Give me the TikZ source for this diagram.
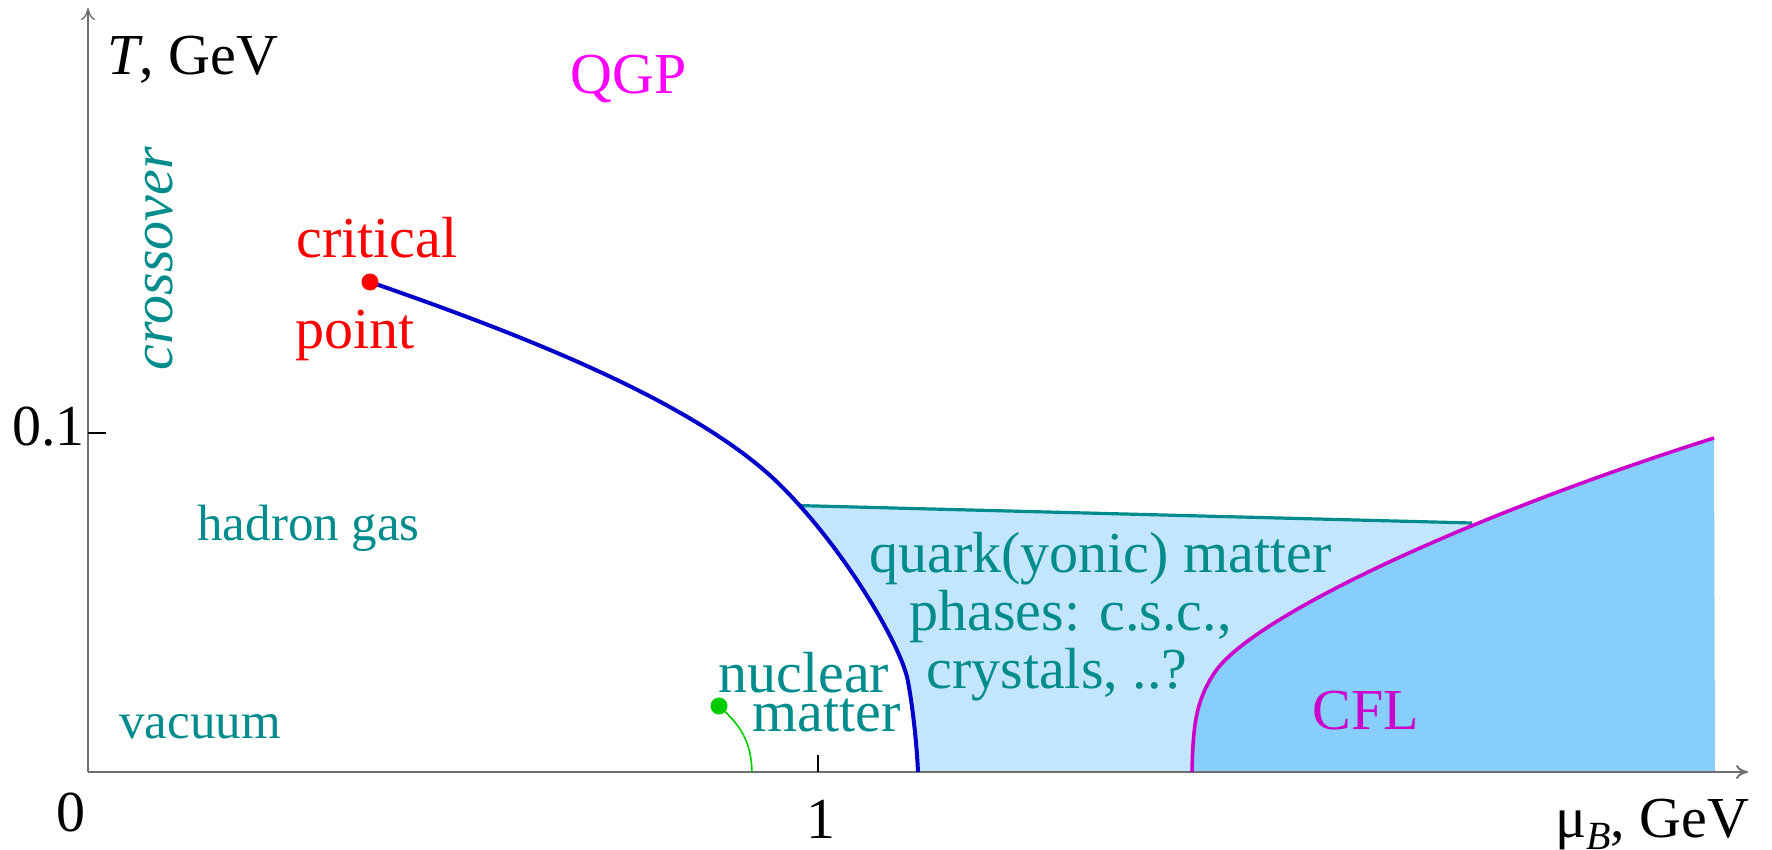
\documentclass[tikz,border=0pt]{standalone}
\usepackage{fontspec}
\setmainfont{Liberation Serif}
\usetikzlibrary{arrows.meta}
\definecolor{tealc}{RGB}{0,140,140}
\definecolor{magtext}{RGB}{255,0,255}
\definecolor{magline}{RGB}{204,0,204}
\definecolor{blueline}{RGB}{0,0,200}
\definecolor{lightq}{RGB}{196,230,252}
\definecolor{darkq}{RGB}{135,206,250}
\definecolor{greenc}{RGB}{0,204,0}
\definecolor{axisc}{RGB}{110,110,110}
\begin{document}
\begin{tikzpicture}[x=0.5pt,y=-0.5pt,
  lbl/.style={inner sep=0pt,font=\fontsize{29}{29}\selectfont},
  lbls/.style={inner sep=0pt,font=\fontsize{25.5}{25.5}\selectfont},
  tl/.style={text=tealc},
  axisline/.style={axisc,line width=1pt,-{To[length=6pt,width=7pt]}},
  dotc/.style={circle,inner sep=0pt,minimum size=8.5pt}]
\useasboundingbox (0,0) rectangle (1772,850);
\node[dotc] (cp) at (370,282) {};
\node[dotc] (nm) at (719,706) {};
\coordinate (bb) at (918,772);
\coordinate (mb) at (1192,772);
\coordinate (mt) at (1714,438);
% light region, clipped to the right of the blue curve
\begin{scope}
\clip (cp.center) .. controls (520,334) and (690,400) .. (775,480)
  .. controls (840,542) and (898,640) .. (907,677)
  .. controls (910,690) and (916,730) .. (bb) -- (1800,772) -- (1800,0) -- (370,0) -- cycle;
\fill[lightq] (700,503) -- (1472,523) -- (1472,772) -- (700,772) -- cycle;
\draw[tealc,line width=1.6pt] (700,503) -- (1472,523);
\end{scope}
% dark region
\fill[darkq] (mb) .. controls (1193,725) and (1196,700) .. (1215,672)
  .. controls (1250,620) and (1450,522) .. (mt) -- (1715,772) -- cycle;
% axes
\coordinate (o) at (88,772);
\coordinate (xe) at (1748,772);
\coordinate (ye) at (88,8);
\draw[axisline] (o) -- (xe);
\draw[axisline,line width=0.7pt] (o) -- (ye);
\coordinate (t1) at (818,772);
\coordinate (t1e) at (818,755);
\draw[line width=0.7pt] (t1) -- (t1e);
\coordinate (t01) at (88,433);
\coordinate (t01e) at (106,433);
\draw[line width=0.7pt] (t01) -- (t01e);
% curves
\draw[blueline,line width=2pt] (cp.center) .. controls (520,334) and (690,400) .. (775,480)
  .. controls (840,542) and (898,640) .. (907,677)
  .. controls (910,690) and (916,730) .. (bb);
\draw[magline,line width=1.8pt] (mb) .. controls (1193,725) and (1196,700) .. (1215,672)
  .. controls (1250,620) and (1450,522) .. (mt);
\draw[greenc,line width=0.8pt] (nm.center) .. controls (740,725) and (751,740) .. (752,772);
\fill[red] (cp) circle (4.25pt);
\fill[greenc] (nm) circle (4.25pt);
% labels
\node[lbl,anchor=base west] (tlab) at (107,75) {\itshape T\upshape, GeV};
\node[lbl,anchor=base west] (mulab) at (1555,837) {μ\raisebox{-0.22em}{\fontsize{20}{20}\selectfont\itshape B}, GeV};
\node[lbl,anchor=base west] (zero) at (56,831) {0};
\node[lbl,anchor=base west] (one) at (806,838) {1};
\node[lbl,anchor=base west] (pt1) at (12,445) {0.1};
\node[lbl,anchor=base west,text=magtext] (qgp) at (570,94) {QGP};
\node[lbl,anchor=base,rotate=90,tl,font=\fontsize{29}{29}\selectfont\itshape] (cross) at (172,259) {crossover};
\node[lbl,anchor=base west,text=red] (crit) at (296,257) {critical};
\node[lbl,anchor=base west,text=red] (point) at (295,348) {point};
\node[lbls,anchor=base west,tl] (hg) at (197,540) {hadron gas};
\node[lbls,anchor=base west,tl] (vac) at (119,738) {vacuum};
\node[lbl,anchor=base west,tl] (nuc) at (718,692) {nuclear};
\node[lbl,anchor=base west,tl] (mat) at (752,731) {matter};
\node[lbl,anchor=base west,tl] (q1) at (869,572) {quark(yonic) matter};
\node[lbl,anchor=base west,tl] (q2) at (909,630) {phases: c.s.c.,};
\node[lbl,anchor=base west,tl] (q3) at (926,688) {crystals, ..?};
\node[lbl,anchor=base west,text=magline] (cfl) at (1312,729) {CFL};
\end{tikzpicture}
\end{document}
